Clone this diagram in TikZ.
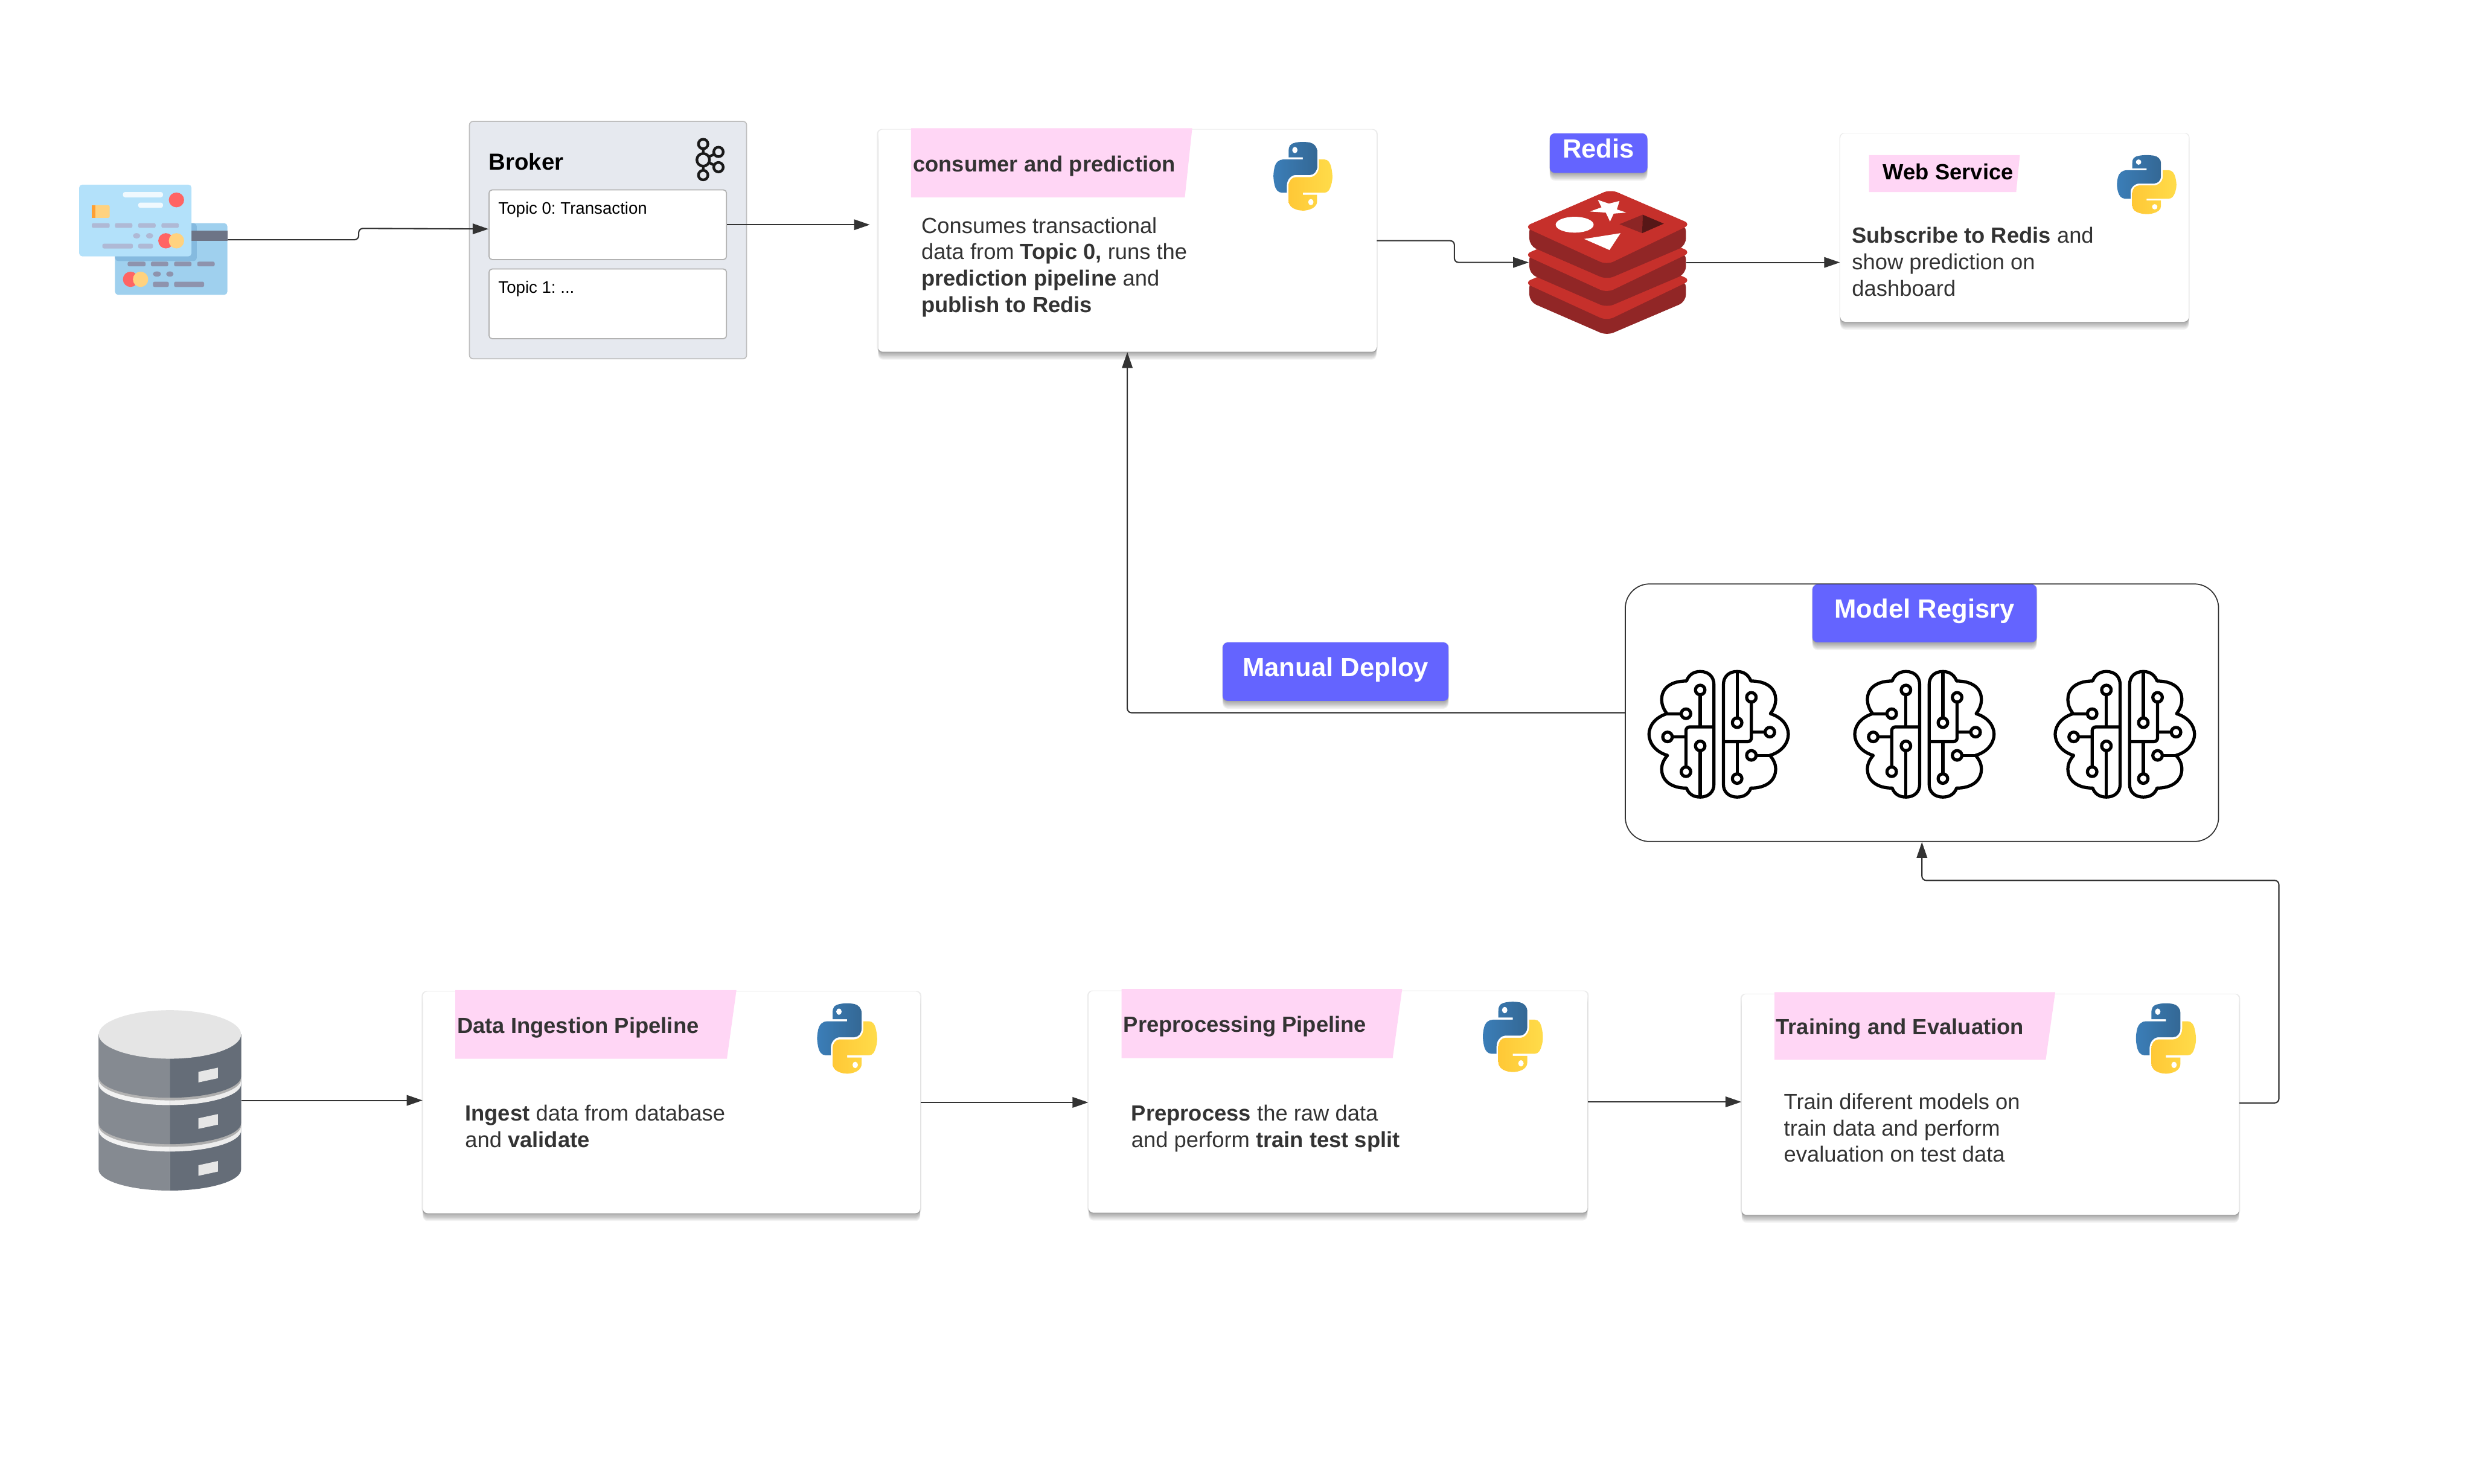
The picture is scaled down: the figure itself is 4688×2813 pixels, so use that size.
\documentclass[tikz,border=0pt]{standalone}
\usepackage{fontspec}
\setmainfont{Liberation Sans}
\usetikzlibrary{arrows.meta,shadows}
\definecolor{flowgrey}{HTML}{333333}
\definecolor{flagpink}{HTML}{FFD6F5}
\definecolor{badgeblue}{HTML}{6464FF}
\definecolor{brokerfill}{HTML}{E6E9EF}
\definecolor{redistop}{HTML}{C6302B}
\definecolor{redisside}{HTML}{912626}
\definecolor{cardfront}{HTML}{B3E1FA}
\definecolor{cardback}{HTML}{9FD0EE}
\definecolor{cardfold}{HTML}{85BADF}
\definecolor{cardstripe}{HTML}{6D7486}
\definecolor{pillfront}{HTML}{AFB9D5}
\definecolor{pillback}{HTML}{8E93AD}
\definecolor{cardred}{HTML}{FF6464}
\definecolor{cardyellow}{HTML}{FFD27F}
\definecolor{pybluea}{HTML}{3B7EB8}
\definecolor{pyblueb}{HTML}{346895}
\definecolor{pyyellowa}{HTML}{FFC836}
\definecolor{pyyellowb}{HTML}{FFDC4A}
\definecolor{dblight}{HTML}{E6E6E6}
\definecolor{dbleft}{HTML}{858A91}
\definecolor{dbright}{HTML}{656D78}
\newcommand{\pylogo}[4]{\begin{scope}[shift={(#1,#2)},xscale=#3/110.4,yscale=#4/110.4]
 \shade[left color=pybluea,right color=pyblueb] (54.919,.001) .. controls (50.335,.023) and (45.958,.414) .. (42.106,1.096) .. controls (30.76,3.099) and (28.7,7.295) .. (28.7,15.032) -- (28.7,25.251) -- (55.513,25.251) -- (55.513,28.657) -- (18.638,28.657) .. controls (10.845,28.657) and (4.022,33.341) .. (1.888,42.251) .. controls (-.574,52.464) and (-.683,58.837) .. (1.888,69.501) .. controls (3.794,77.439) and (8.346,83.095) .. (16.138,83.095) -- (25.357,83.095) -- (25.357,70.845) .. controls (25.357,61.995) and (33.014,54.189) .. (42.107,54.189) -- (68.888,54.189) .. controls (76.342,54.189) and (82.294,48.051) .. (82.294,40.564) -- (82.294,15.032) .. controls (82.294,7.766) and (76.164,2.307) .. (68.888,1.095) .. controls (64.283,.328) and (59.502,-.02) .. (54.919,.001) -- cycle;
 \shade[left color=pyyellowa,right color=pyyellowb] (85.638,28.657) -- (85.638,40.563) .. controls (85.638,49.794) and (77.812,57.563) .. (68.888,57.563) -- (42.106,57.563) .. controls (34.77,57.563) and (28.7,63.841) .. (28.7,71.188) -- (28.7,96.719) .. controls (28.7,103.985) and (35.019,108.259) .. (42.106,110.344) .. controls (50.593,112.84) and (58.732,113.291) .. (68.887,110.344) .. controls (75.637,108.39) and (82.293,104.456) .. (82.293,96.719) -- (82.293,86.501) -- (55.513,86.501) -- (55.513,83.095) -- (95.7,83.095) .. controls (103.493,83.095) and (106.396,77.659) .. (109.106,69.501) .. controls (111.906,61.102) and (111.786,53.025) .. (109.106,42.251) .. controls (107.18,34.494) and (103.502,28.657) .. (95.7,28.657) -- cycle;
 \fill[white] (40.419,13.33) ellipse [x radius=5,y radius=5.1] (70.575,98.42) ellipse [x radius=5,y radius=5.1];
\end{scope}}
\newcommand{\brainicon}[2]{\begin{scope}[shift={(#1,#2)},line width=.06cm,line join=round]
 \foreach \s in {-1,1} \draw[xscale=\s] (9,95) -- (9,-94) .. controls (9,-110) and (20,-119) .. (35,-119) .. controls (48,-119) and (57,-112) .. (61,-101) .. controls (90,-101) and (108,-88) .. (108,-66) .. controls (108,-55) and (104,-47) .. (98,-39) .. controls (118,-33) and (132,-18) .. (132,0) .. controls (132,18) and (118,34) .. (97,40) .. controls (104,48) and (108,56) .. (108,66) .. controls (108,88) and (90,102) .. (61,102) .. controls (57,113) and (48,119) .. (35,119) .. controls (20,119) and (9,110) .. (9,95) -- cycle;
 \draw (-35,-84) circle (9) (-62,-39) circle (9) (-97,5) circle (9) (-35,22) circle (9) (-62,71) circle (9);
 \draw (-35,-75) -- (-35,-14) (-71,-39) -- (-98,-39) (-88,5) -- (-62,5) (-35,31) -- (-35,119);
 \draw[rounded corners=.07cm] (-9,-14) -- (-62,-14) -- (-62,62);
 \draw (35,-22) circle (9) (62,-70) circle (9) (97,-4) circle (9) (62,40) circle (9) (35,84) circle (9);
 \draw (35,-119) -- (35,-31) (35,14) -- (35,75) (71,40) -- (97,40) (62,-4) -- (88,-4);
 \draw[rounded corners=.07cm] (62,-61) -- (62,14) -- (9,14);
\end{scope}}
\newcommand{\redislayer}[1]{\begin{scope}[shift={(0,#1)},rounded corners=.14cm]
 \fill[redisside] (2899,425) -- (2899,466) -- (3046,530) -- (3196,466) -- (3196,425) -- cycle;
 \fill[redistop] (2889,430) -- (3053,359) -- (3206,425) -- (3046,502) -- cycle;
\end{scope}}
\newcommand{\dblayer}[3]{\fill[#2] (187,1961) -- (187,#1) .. controls (187,#1+22) and (248,#1+40) .. (322,#1+40) -- (322,1961) -- cycle;
 \fill[#3] (457,1961) -- (457,#1) .. controls (457,#1+22) and (396,#1+40) .. (322,#1+40) -- (322,1961) -- cycle;}
\newcommand{\dbslot}[1]{\fill[dblight] (376,#1+8) -- (413,#1) -- (413,#1+20) -- (376,#1+28) -- cycle;}
\begin{document}
\frenchspacing
\begin{tikzpicture}[x=.01cm,y=-.01cm,>={Triangle[length=.3cm,width=.2cm]},
 softlayer/.style={drop shadow={shadow xshift=0pt,shadow yshift=-#1,opacity=.055,fill=black}},
 softshadow/.style={softlayer=.6pt,softlayer=1.2pt,softlayer=1.8pt,softlayer=2.4pt,softlayer=3pt,softlayer=3.6pt,softlayer=4.2pt,drop shadow={shadow xshift=0pt,shadow yshift=0pt,shadow scale=1.005,opacity=.08,fill=black}},
 card/.style={rectangle,fill=white,rounded corners=.09cm,softshadow,inner sep=0,anchor=north west},
 badge/.style={rectangle,fill=badgeblue,rounded corners=.1cm,softshadow,text=white,font=\fontsize{14.2}{17}\selectfont\bfseries,text height=.36cm,text depth=.18cm,anchor=north west,inner sep=0},
 topicbox/.style={rectangle,fill=white,draw=black!30,line width=.02cm,rounded corners=.06cm,minimum width=4.5cm,minimum height=1.32cm,anchor=north west,inner sep=0},
 iconbox/.style={rectangle,inner sep=0},
 flow/.style={->,draw=flowgrey,line width=.024cm,rounded corners=.08cm},
 flag/.style={fill=flagpink},
 titletext/.style={anchor=base west,inner sep=0,font=\fontsize{11.84}{14.2}\selectfont\bfseries,text=flowgrey},
 bodytext/.style={anchor=base west,inner sep=0,align=left,font=\fontsize{11.84}{14.2}\selectfont,text=flowgrey},
 topictext/.style={anchor=base west,inner sep=0,font=\fontsize{9}{11}\selectfont}]
 \useasboundingbox (0,0) rectangle (4688,2813);

 % source cards
 \node[iconbox,minimum width=2.81cm,minimum height=2.09cm] (cards) at (290.5,454.5){};
 \fill[cardback,rounded corners=.06cm] (218,423) rectangle (431,559);
 \fill[cardfold,rounded corners=.06cm] (218,423) rectangle (373,495);
 \fill[cardstripe] (363,437) rectangle (431,457);
 \foreach \a/\b in {242/276,286/319,330/363,374/407}
  \fill[pillback,rounded corners=.03cm] (\a,496) rectangle (\b,505);
 \foreach \a/\b in {290/320,330/387}
  \fill[pillback,rounded corners=.03cm] (\a,534) rectangle (\b,544);
 \fill[pillback] (297.5,519.5) ellipse [x radius=7.5,y radius=5] (322,519.5) ellipse [x radius=7,y radius=5];
 \fill[cardred] (247.5,529.5) ellipse [x radius=14.5,y radius=14.5];
 \fill[cardyellow] (266.5,529.5) ellipse [x radius=14.5,y radius=14.5];
 \fill[cardfront,rounded corners=.06cm] (150,350) rectangle (363,486);
 \fill[white!80!cardfront,rounded corners=.04cm] (233,364) rectangle (309,374) (262,384) rectangle (309,394);
 \fill[cardred] (334.5,379) ellipse [x radius=14.5,y radius=14];
 \fill[cardyellow,rounded corners=.03cm] (174,389) rectangle (208,413);
 \fill[orange!60!cardyellow] (174,389) rectangle (181,413);
 \foreach \a/\b in {174/208,218/251,262/295,306/339}
  \fill[pillfront,rounded corners=.03cm] (\a,423) rectangle (\b,432);
 \fill[pillfront] (259,447) ellipse [x radius=7,y radius=5] (283.5,447) ellipse [x radius=7,y radius=5];
 \fill[cardred] (314.5,456.5) ellipse [x radius=14.5,y radius=14.5];
 \fill[cardyellow] (334.5,456.5) ellipse [x radius=14.5,y radius=14.5];
 \foreach \a/\b in {194/252,262/290}
  \fill[pillfront,rounded corners=.03cm] (\a,462) rectangle (\b,471);

 % broker
 \node[rectangle,fill=brokerfill,draw=black!25,line width=.02cm,rounded corners=.07cm,minimum width=5.25cm,minimum height=4.5cm,anchor=north west,inner sep=0] (broker) at (889,229){};
 \node[anchor=base west,inner sep=0,font=\fontsize{12.5}{15}\selectfont\bfseries] (brokertitle) at (926,322){Broker};
 \node[topicbox] (topic0) at (926,359){};
 \node[topicbox] (topic1) at (926,509){};
 \node[topictext] (topic0text) at (944,406){Topic 0: Transaction};
 \node[topictext] (topic1text) at (944,556){Topic 1: ...};
 \begin{scope}[line width=.05cm,draw=black!90]
  \draw (1333,273) -- (1333,332) (1362,288) -- (1333,303) -- (1362,317);
  \filldraw[fill=brokerfill] (1333,273) circle (9) (1333,332) circle (9) (1362,288) circle (9) (1362,317) circle (9) (1333,303) circle (12);
 \end{scope}

 % consumer
 \node[card,minimum width=9.44cm,minimum height=4.21cm] (consumer) at (1664,245){};
 \fill[flag] (1727,243) -- (2260,243) -- (2246,374) -- (1727,374) -- cycle;
 \node[titletext] (consumertitle) at (1730,326){consumer and prediction};
 \node[bodytext] (consumerbody) at (1746,592){Consumes transactional\\data from \textbf{Topic 0,} runs the\\\textbf{prediction pipeline} and\\\textbf{publish to Redis}};
 \pylogo{2414}{269}{111}{128}

 % redis
 \node[badge,minimum width=1.85cm,minimum height=.75cm] (redistag) at (2937,252){Redis};
 \node[iconbox,minimum width=2.97cm,minimum height=2.71cm] (redis) at (3047.5,497.5){};
 \redislayer{106}
 \redislayer{53}
 \redislayer{0}
 \fill[white] (3029,379) -- (3050,386) -- (3070,381) -- (3065,397) -- (3083,403) -- (3059,405) -- (3052,420) -- (3044,403) -- (3014,401) -- (3036,393) -- cycle;
 \fill[white] (2985,426) ellipse [x radius=36,y radius=15];
 \fill[white] (3072,442) -- (3003,453) -- (3051,474) -- cycle;
 \fill[redisside!110!redistop] (3070,425) -- (3114,407) -- (3113,442) -- cycle;
 \fill[redisside!60!black] (3114,407) -- (3154,424) -- (3113,442) -- cycle;

 % web service
 \node[card,minimum width=6.6cm,minimum height=3.57cm] (web) at (3488,252){};
 \fill[flag] (3543,294) -- (3829,294) -- (3822,364) -- (3543,364) -- cycle;
 \node[titletext,text=black] (webtitle) at (3569,340){Web Service};
 \node[bodytext] (webbody) at (3510,561){\textbf{Subscribe to Redis} and\\show prediction on\\dashboard};
 \pylogo{4013}{294}{112}{110}

 % model registry
 \node[rectangle,fill=white,draw=flowgrey,line width=.02cm,rounded corners=.46cm,minimum width=11.24cm,minimum height=4.88cm,anchor=north west,inner sep=0] (registry) at (3080,1106){};
 \node[badge,minimum width=4.25cm,minimum height=1.1cm] (registrytag) at (3435,1107){Model Regisry};
 \brainicon{3258}{1392}
 \brainicon{3648}{1392}
 \brainicon{4028}{1392}
 \node[badge,minimum width=4.28cm,minimum height=1.11cm] (deploytag) at (2317,1217){Manual Deploy};

 % database
 \node[iconbox,minimum width=2.7cm,minimum height=3.42cm] (db) at (322,2086){};
 \dblayer{2217}{dbleft}{dbright}
 \dblayer{2143}{black!5}{black!7}
 \dblayer{2134}{black!30}{black!32}
 \dblayer{2129}{dbleft}{dbright}
 \dblayer{2055}{black!5}{black!7}
 \dblayer{2046}{black!30}{black!32}
 \dblayer{2041}{dbleft}{dbright}
 \fill[black!10] (187,1961) .. controls (187,1936) and (248,1915) .. (322,1915) .. controls (396,1915) and (457,1936) .. (457,1961) .. controls (457,1986) and (396,2007) .. (322,2007) .. controls (248,2007) and (187,1986) .. (187,1961) -- cycle;
 \dbslot{2024}
 \dbslot{2112}
 \dbslot{2201}

 % pipeline cards
 \node[card,minimum width=9.42cm,minimum height=4.2cm] (ingest) at (801,1879){};
 \fill[flag] (863,1877) -- (1396,1877) -- (1378,2007) -- (863,2007) -- cycle;
 \node[titletext] (ingesttitle) at (866,1959){Data Ingestion Pipeline};
 \node[bodytext] (ingestbody) at (881,2175){\textbf{Ingest} data from database\\and \textbf{validate}};
 \pylogo{1549}{1902}{113}{131}

 \node[card,minimum width=9.45cm,minimum height=4.2cm] (preprocess) at (2063,1878){};
 \fill[flag] (2126,1875) -- (2658,1875) -- (2640,2006) -- (2126,2006) -- cycle;
 \node[titletext] (preprocesstitle) at (2129,1956){Preprocessing Pipeline};
 \node[bodytext] (preprocessbody) at (2144,2175){\textbf{Preprocess} the raw data\\and perform \textbf{train test split}};
 \pylogo{2811}{1899}{113}{131}

 \node[card,minimum width=9.42cm,minimum height=4.18cm] (train) at (3301,1884){};
 \fill[flag] (3364,1881) -- (3896,1881) -- (3878,2009) -- (3364,2009) -- cycle;
 \node[titletext] (traintitle) at (3366,1961){Training and Evaluation};
 \node[bodytext] (trainbody) at (3381,2203){Train diferent models on\\train data and perform\\evaluation on test data};
 \pylogo{4049}{1902}{113}{131}

 % connectors
 \draw[flow] (cards.east) -| (680,433) -- ([yshift=-.08cm]topic0.west);
 \draw[flow,shorten >=.15cm] (topic0.east) -- (topic0.east -| consumer.west);
 \draw[flow] (consumer.east) -| (2757,497.5) -- (redis.west);
 \draw[flow] (redis.east) -- (redis.east -| web.west);
 \draw[flow] (registry.west) -| (consumer.south);
 \draw[flow] (db.east) -- (db.east -| ingest.west);
 \draw[flow] (ingest.east) -- (ingest.east -| preprocess.west);
 \draw[flow] (preprocess.east) -- (preprocess.east -| train.west);
 \draw[flow] ([yshift=.03cm]train.east) -| (4320,1669) -| (registry.south);
\end{tikzpicture}
\end{document}
